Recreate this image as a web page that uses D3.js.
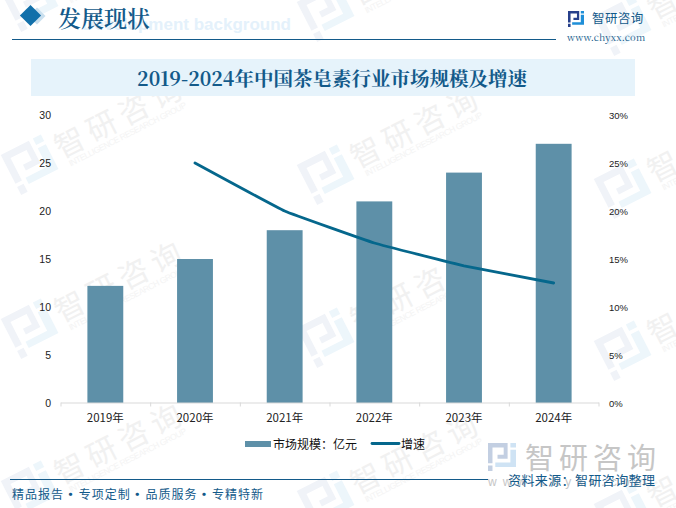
<!DOCTYPE html>
<html>
<head>
<meta charset="utf-8">
<script src="https://cdn.jsdelivr.net/npm/d3@7"></script>
<style>
html, body { margin: 0; padding: 0; background: #fff; }
svg { display: block; }
text { font-family: "Noto Sans CJK SC", sans-serif; }
</style>
</head>
<body>
<svg id="chart" width="676" height="508"></svg>
<script>
const years = ['2019年', '2020年', '2021年', '2022年', '2023年', '2024年']
const marketSize = [12.2, 15, 18, 21, 24, 27]
const growth = [null, 25, 20, 16.67, 14.29, 12.5]
const leftTicks = [0, 5, 10, 15, 20, 25, 30]
const rightTicks = [0, 5, 10, 15, 20, 25, 30]
const footerItems = ['精品报告', '专项定制', '品质服务', '专精特新']
// watermark anchors (centre of the first glyph)
const marks = [[70, -22], [366, -12], [663, 2], [70, 141], [366, 151], [663, 165], [70, 305], [366, 314], [663, 327], [70, 467], [366, 477], [663, 490]]

const serif = '"Noto Serif CJK SC", "Liberation Serif", "DejaVu Serif", serif'
const sans = '"Liberation Sans", sans-serif'
const blue = '#135a8a'
const svg = d3.select('#chart')

// company logo, drawn in a 100x100 box
const logoDark = 'M0 0H70V56H34V42H56V16H16V72H0Z M0 80H16V100H0Z'
const logoLight = 'M80 0H100V16H80Z M80 24H100V86H26V70H80Z'
function logo(parent, px, py, size, dark, light) {
  const g = parent.append('g').attr('transform', `translate(${px},${py}) scale(${size / 100})`)
  g.append('path').attr('d', logoDark).attr('fill', dark)
  g.append('path').attr('d', logoLight).attr('fill', light)
}

// watermarks go first so everything else sits over them
svg.append('g').selectAll('g').data(marks).join('g')
  .attr('transform', d => `translate(${d[0]},${d[1]}) rotate(-27)`)
  .each(function () {
    const g = d3.select(this)
    logo(g, -68, -19, 45, '#f0f3f8', '#edf6fb')
    g.append('text').attr('x', -16).attr('y', 12).text('智研咨询')
      .attr('font-size', 30).attr('letter-spacing', 6).attr('fill', '#f1f1f1')
    g.append('text').attr('x', -11).attr('y', 23).text('INTELLIGENCE RESEARCH GROUP')
      .attr('font-size', 8.5).attr('textLength', 131).attr('fill', '#f4f4f4')
      .style('font-family', sans)
  })

// header
svg.append('text').attr('x', 291).attr('y', 30).attr('text-anchor', 'end').text('Development background')
  .attr('font-size', 17).attr('font-weight', 700).attr('fill', '#e4f1fb').style('font-family', sans)
svg.append('rect').attr('x', 31).attr('y', 10).attr('width', 12).attr('height', 12)
  .attr('transform', 'rotate(45 37 16)').attr('fill', '#c9dfee')
svg.append('rect').attr('x', 23).attr('y', 8).attr('width', 15).attr('height', 15)
  .attr('transform', 'rotate(45 30.5 15.5)').attr('fill', '#1270aa')
svg.append('text').attr('x', 58).attr('y', 27).text('发展现状')
  .attr('font-size', 23).attr('font-weight', 600).attr('fill', blue).style('font-family', serif)
svg.append('line').attr('x1', 12).attr('x2', 556).attr('y1', 39.5).attr('y2', 39.5)
  .attr('stroke', blue).attr('stroke-width', 1)

logo(svg, 568, 11, 16, '#27408b', '#1f8fd8')
svg.append('text').attr('x', 592).attr('y', 23).text('智研咨询')
  .attr('font-size', 12.5).attr('letter-spacing', .4).attr('fill', blue)
svg.append('text').attr('x', 567).attr('y', 41).text('www.chyxx.com')
  .attr('font-size', 9.5).attr('letter-spacing', .2).attr('fill', blue).style('font-family', serif)

// title band
svg.append('rect').attr('x', 31).attr('y', 59).attr('width', 604).attr('height', 37).attr('fill', '#e6f3fb')
svg.append('text').attr('x', 332).attr('y', 86).attr('text-anchor', 'middle')
  .text('2019-2024年中国茶皂素行业市场规模及增速')
  .attr('font-size', 19.5).attr('font-weight', 700).attr('fill', blue).style('font-family', serif)

// chart
const x = d3.scaleBand().domain(years).range([60.5, 598.5]).paddingInner(0.6).paddingOuter(0.3)
const y = d3.scaleLinear().domain([0, 30]).range([403, 115])
const yPct = d3.scaleLinear().domain([0, 30]).range([403, 115])

svg.append('g').selectAll('rect').data(marketSize).join('rect')
  .attr('x', (d, i) => x(years[i])).attr('width', x.bandwidth())
  .attr('y', d => y(d)).attr('height', d => y(0) - y(d)).attr('fill', '#5e90a8')

const line = d3.line().defined(d => d !== null).curve(d3.curveCardinal.tension(0.75))
  .x((d, i) => x(years[i]) + x.bandwidth() / 2).y(d => yPct(d))
svg.append('path').attr('d', line(growth)).attr('fill', 'none')
  .attr('stroke', '#05678c').attr('stroke-width', 2.8).attr('stroke-linecap', 'round')

const xAxis = svg.append('g').attr('transform', 'translate(0,402.5)')
  .call(d3.axisBottom(d3.scalePoint().domain(d3.range(7)).range([60.5, 598.5])).tickSize(4).tickSizeOuter(0).tickFormat(''))
xAxis.selectAll('line,path').attr('stroke', '#d9d9d9')
svg.append('g').selectAll('text').data(years).join('text')
  .attr('x', d => x(d) + x.bandwidth() / 2).attr('y', 422).attr('text-anchor', 'middle').text(d => d)
  .attr('font-size', 11.5).attr('fill', '#222')

svg.append('g').selectAll('text').data(leftTicks).join('text')
  .attr('x', 51).attr('y', d => y(d) + 4).attr('text-anchor', 'end').text(d => d)
  .attr('font-size', 10.5).attr('fill', '#222').style('font-family', sans)
svg.append('g').selectAll('text').data(rightTicks).join('text')
  .attr('x', 609).attr('y', d => yPct(d) + 4).text(d => d + '%')
  .attr('font-size', 9.5).attr('fill', '#222').style('font-family', sans)

// legend
svg.append('rect').attr('x', 245).attr('y', 441).attr('width', 26).attr('height', 6).attr('fill', '#5e90a8')
svg.append('text').attr('x', 273).attr('y', 449).text('市场规模：亿元').attr('font-size', 12).attr('fill', '#111')
svg.append('line').attr('x1', 372).attr('x2', 399).attr('y1', 443.5).attr('y2', 443.5)
  .attr('stroke', '#05678c').attr('stroke-width', 2.8).attr('stroke-linecap', 'round')
svg.append('text').attr('x', 401).attr('y', 449).text('增速').attr('font-size', 12).attr('fill', '#111')

// bottom logo stamp and footer
logo(svg, 488, 443, 28, '#c3cfe2', '#cfe3f4')
svg.append('text').attr('x', 525).attr('y', 469).text('智研咨询')
  .attr('font-size', 29).attr('letter-spacing', 5).attr('fill', '#c6c6c6')
svg.append('text').attr('x', 488).attr('y', 486).text('www.chyxx.com')
  .attr('font-size', 12).attr('letter-spacing', 6).attr('fill', '#c6c6c6').style('font-family', sans)
svg.append('line').attr('x1', 10).attr('x2', 488).attr('y1', 479.5).attr('y2', 479.5)
  .attr('stroke', blue).attr('stroke-width', 1)
svg.append('g').selectAll('text').data(footerItems).join('text')
  .attr('x', (d, i) => 12 + i * 66.7).attr('y', 499).text(d => d)
  .attr('font-size', 12).attr('letter-spacing', 1).attr('fill', blue)
svg.append('g').selectAll('text').data(footerItems.slice(1)).join('text')
  .attr('x', (d, i) => 70.5 + i * 66.7).attr('y', 499).attr('text-anchor', 'middle').text('·')
  .attr('font-size', 13).attr('font-weight', 700).attr('fill', blue)
svg.append('text').attr('x', 508).attr('y', 485).text('资料来源：智研咨询整理')
  .attr('font-size', 13).attr('letter-spacing', .4).attr('fill', blue)
</script>
</body>
</html>
